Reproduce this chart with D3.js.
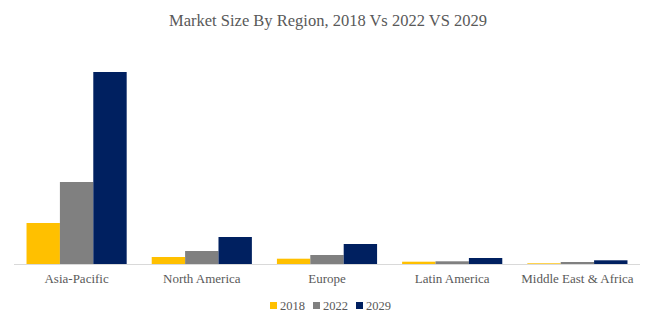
<!DOCTYPE html>
<html>
<head>
<meta charset="utf-8">
<script src="https://cdn.jsdelivr.net/npm/d3@7"></script>
<style>
  body { margin: 0; background: #fff; }
  svg text { font-family: "Liberation Serif", "DejaVu Serif", serif; fill: #595959; }
</style>
</head>
<body>
<script>
// data (relative market size)
var regions = ["Asia-Pacific", "North America", "Europe", "Latin America", "Middle East & Africa"];
var years = ["2018", "2022", "2029"];
var v2018 = [41, 7, 5.3, 2.3, 0.7];
var v2022 = [82, 13, 9, 2.7, 2];
var v2029 = [192, 27, 20, 6, 3.7];
var colors = ["#FFC000", "#808080", "#002060"];

var series = [v2018, v2022, v2029];

var W = 655, H = 326;
var margin = {top: 72, right: 15, bottom: 62, left: 14},
    width = W - margin.left - margin.right,
    height = H - margin.top - margin.bottom;

var svg = d3.select("body").append("svg")
    .attr("width", W)
    .attr("height", H);

svg.append("text")
    .attr("x", 328)
    .attr("y", 26)
    .attr("text-anchor", "middle")
    .style("font-size", "16.5px")
    .text("Market Size By Region, 2018 Vs 2022 VS 2029");

var g = svg.append("g")
    .attr("transform", "translate(" + margin.left + "," + margin.top + ")");

var x0 = d3.scaleBand()
    .domain(regions)
    .range([0, width])
    .paddingInner(0.2)
    .paddingOuter(0.1);
var x1 = d3.scaleBand()
    .domain(years)
    .range([0, x0.bandwidth()]);
var y = d3.scaleLinear()
    .domain([0, 192])
    .range([height, 0]);

var groups = g.selectAll(".grp")
    .data(regions)
  .enter().append("g")
    .attr("class", "grp")
    .attr("transform", function(d) { return "translate(" + x0(d) + ",0)"; });

groups.selectAll("rect")
    .data(function(d, i) { return years.map(function(yr, j) { return {year: yr, value: series[j][i], c: colors[j]}; }); })
  .enter().append("rect")
    .attr("x", function(d) { return x1(d.year); })
    .attr("width", x1.bandwidth())
    .attr("y", function(d) { return y(d.value); })
    .attr("height", function(d) { return height - y(d.value); })
    .attr("fill", function(d) { return d.c; });

// x axis
var xAxis = g.append("g")
    .attr("transform", "translate(0," + height + ")")
    .call(d3.axisBottom(x0).tickSize(0).tickPadding(10));
xAxis.select(".domain").attr("stroke", "#d9d9d9").attr("d", "M0,0.5H" + width);
xAxis.selectAll("text")
    .style("font-size", "13px")
    .attr("fill", "#595959")
    .style("font-family", "Liberation Serif, serif");

// legend
var legX = [270, 313, 356];
var leg = svg.selectAll(".leg")
    .data(years)
  .enter().append("g")
    .attr("class", "leg")
    .attr("transform", function(d, i) { return "translate(" + legX[i] + ",302)"; });
leg.append("rect")
    .attr("width", 7).attr("height", 7)
    .attr("fill", function(d, i) { return colors[i]; });
leg.append("text")
    .attr("x", 10).attr("y", 7.5)
    .style("font-size", "12.5px")
    .text(function(d) { return d; });
</script>
</body>
</html>
